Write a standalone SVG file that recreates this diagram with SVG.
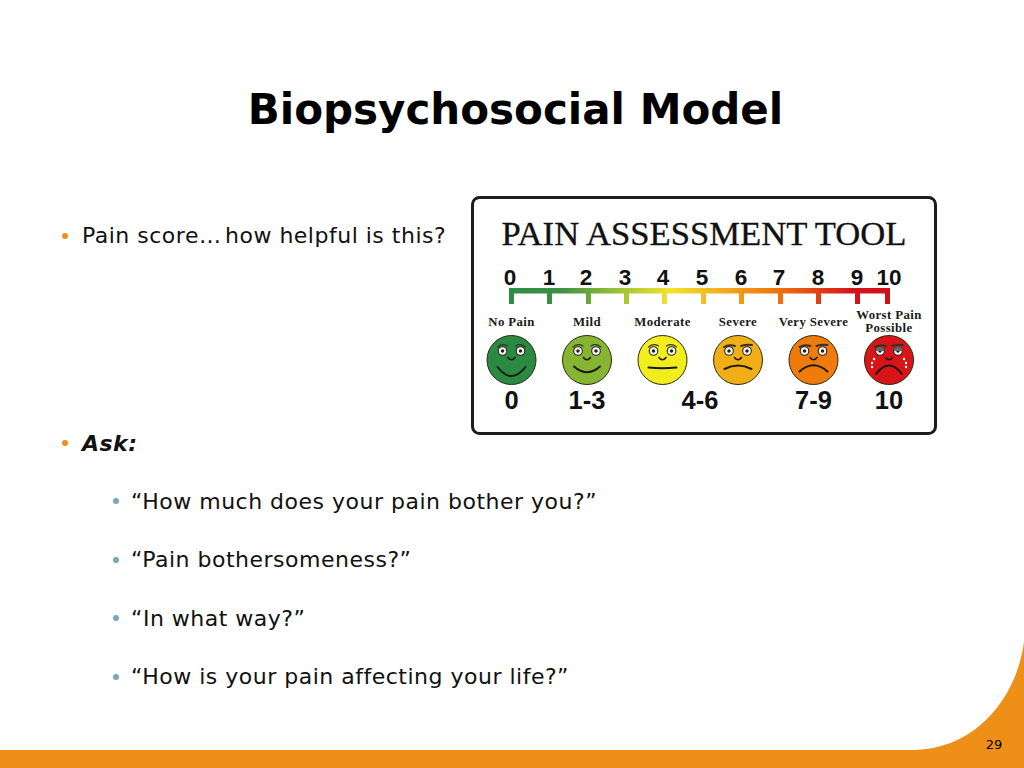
<svg xmlns="http://www.w3.org/2000/svg" xmlns:xlink="http://www.w3.org/1999/xlink" width="1024" height="768" viewBox="0 0 1024 768">
<style>
.t{font-family:"DejaVu Sans",Verdana,sans-serif;fill:#000}
.b{font-size:22px;letter-spacing:.5px;fill:#111}
.d1{fill:#ee8f18}.d2{fill:#7ba5b8}
.h{font-family:"Liberation Serif",serif;font-weight:bold;font-size:12.800px;letter-spacing:.4px;text-anchor:middle;fill:#1a1a1a}
.n{font-family:"Liberation Sans",Arial,sans-serif;font-weight:bold;font-size:22.500px;text-anchor:middle;fill:#111}
.r{font-family:"Liberation Sans",Arial,sans-serif;font-weight:bold;font-size:25.500px;text-anchor:middle;fill:#111}
.f{stroke:#2b2b10;stroke-width:1}
.l{fill:none;stroke:#1a1a10;stroke-width:1.600;stroke-linecap:round}
.m{fill:none;stroke:#1a1a10;stroke-width:2;stroke-linecap:round}
.br{fill:none;stroke:#33332a;stroke-width:1.200;stroke-linecap:round}
.bs{fill:none;stroke:#33332a;stroke-width:2;stroke-linecap:round}
.ew{fill:#fff;stroke:#222;stroke-width:1.100}
</style>
<defs>
<linearGradient id="g" gradientUnits="userSpaceOnUse" x1="509" y1="0" x2="890" y2="0">
<stop offset="0" stop-color="#2e8b46"/><stop offset=".14" stop-color="#3f9143"/><stop offset=".3" stop-color="#a4c636"/><stop offset=".42" stop-color="#f0e42c"/><stop offset=".55" stop-color="#f3b01e"/><stop offset=".72" stop-color="#ee6c0c"/><stop offset=".9" stop-color="#d5141a"/><stop offset="1" stop-color="#cf1018"/>
</linearGradient>
<g id="eyes">
<circle class="ew" cx="-9" cy="-9" r="4.300"/><circle class="ew" cx="9" cy="-9" r="4.300"/>
<circle cx="-9" cy="-9" r="1.800" fill="#222"/><circle cx="9" cy="-9" r="1.800" fill="#222"/>
<path class="l" d="M-3.500 -2.500Q0 2 3.500 -2.500"/>
</g>
<path id="brow-calm" class="br" d="M-14 -13Q-9 -17 -4 -14M4 -14Q9 -17 14 -13"/>
<path id="brow-sad" class="bs" d="M-14 -13Q-9 -16 -3 -14M3 -14Q9 -16 14 -15"/>
</defs>
<rect width="1024" height="768" fill="#fff"/>
<path id="footer" class="d1" d="M0 750H915C975 748 1016 700 1024 642V768H0Z"/>
<text class="t" x="515.500" y="124" font-size="42" font-weight="bold" text-anchor="middle" fill="#000">Biopsychosocial Model</text>
<g id="bullets">
<circle class="d1" cx="65" cy="236" r="3"/>
<text class="t b" x="82" y="243">Pain score…<tspan x="225">how helpful is this?</tspan></text>
<circle class="d1" cx="65" cy="443" r="3"/>
<text class="t b" x="82" y="451" font-weight="bold" font-style="italic">Ask:</text>
<circle class="d2" cx="116" cy="501" r="3"/>
<text class="t b" x="131" y="509">“How much does your pain bother you?”</text>
<circle class="d2" cx="116" cy="560" r="3"/>
<text class="t b" x="131" y="567">“Pain bothersomeness?”</text>
<circle class="d2" cx="116" cy="618" r="3"/>
<text class="t b" x="131" y="626">“In what way?”</text>
<circle class="d2" cx="116" cy="677" r="3"/>
<text class="t b" x="131" y="684">“How is your pain affecting your life?”</text>
</g>
<text class="t" x="994" y="749" font-size="13" text-anchor="middle" fill="#222">29</text>
<g id="pain-tool">
<rect x="472.500" y="197.500" width="463" height="236" rx="7" fill="#fff" stroke="#1c1c1c" stroke-width="3"/>
<text x="704" y="245" font-family="'Liberation Serif',serif" font-size="33" text-anchor="middle" fill="#111" stroke="#111" stroke-width=".3" textLength="405" lengthAdjust="spacingAndGlyphs">PAIN ASSESSMENT TOOL</text>
<g>
<text class="n" x="510" y="285">0</text><text class="n" x="549" y="285">1</text><text class="n" x="586" y="285">2</text><text class="n" x="625" y="285">3</text><text class="n" x="663" y="285">4</text><text class="n" x="702" y="285">5</text><text class="n" x="741" y="285">6</text><text class="n" x="779" y="285">7</text><text class="n" x="818" y="285">8</text><text class="n" x="857" y="285">9</text><text class="n" x="889" y="285">10</text>
</g>
<path fill="url(#g)" d="M509 288H890V304H885V293.500H860V304H855V293.500H821V304H816V293.500H783V304H778V293.500H744V304H739V293.500H706V304H701V293.500H667V304H662V293.500H629V304H624V293.500H591V304H586V293.500H552V304H547V293.500H514V304H509Z"/>
<text class="h" x="511.500" y="325.500">No Pain</text>
<text class="h" x="587" y="325.500">Mild</text>
<text class="h" x="662.500" y="325.500">Moderate</text>
<text class="h" x="738" y="325.500">Severe</text>
<text class="h" x="813.500" y="325.500">Very Severe</text>
<text class="h" x="889" y="319">Worst Pain</text>
<text class="h" x="889" y="332">Possible</text>
<g id="face0" transform="translate(511.500 360)"><circle class="f" r="24.500" fill="#2b8a42"/><use xlink:href="#eyes" href="#eyes"/><use href="#brow-calm" xlink:href="#brow-calm"/><path class="m" d="M-14 7Q0 25 14 7"/></g>
<g id="face1" transform="translate(587 360)"><circle class="f" r="24.500" fill="#86b533"/><use xlink:href="#eyes" href="#eyes"/><use href="#brow-calm" xlink:href="#brow-calm"/><path class="m" d="M-13 6.500Q0 18 13 6.500"/></g>
<g id="face2" transform="translate(662.500 360)"><circle class="f" r="24.500" fill="#f2ee1e"/><use xlink:href="#eyes" href="#eyes"/><use href="#brow-calm" xlink:href="#brow-calm"/><path class="m" d="M-14 7.500Q0 9 14 7.500"/></g>
<g id="face3" transform="translate(738 360)"><circle class="f" r="24.500" fill="#f1af15"/><use xlink:href="#eyes" href="#eyes"/><use href="#brow-sad" xlink:href="#brow-sad"/><path class="m" d="M-13.500 9Q0 2 13.500 9"/></g>
<g id="face4" transform="translate(813.500 360)"><circle class="f" r="24.500" fill="#ee7b0b"/><use xlink:href="#eyes" href="#eyes"/><use href="#brow-sad" xlink:href="#brow-sad"/><path class="m" d="M-14 11.500Q0 -1 14 11.500"/></g>
<g id="face5" transform="translate(889 360)"><circle class="f" r="24.500" fill="#d81418"/><use xlink:href="#eyes" href="#eyes"/><path d="M-13.500 -9A4.500 4.500 0 0 1 -4.500 -9ZM4.500 -9A4.500 4.500 0 0 1 13.500 -9Z" fill="#666"/><use href="#brow-sad" xlink:href="#brow-sad"/><path class="m" d="M-13 14Q0 -3 13 14"/><g fill="#fff"><circle cx="-15" cy="-1" r="1.200"/><circle cx="-17" cy="3" r="1.200"/><circle cx="-17" cy="7" r="1.200"/><circle cx="15" cy="-1" r="1.200"/><circle cx="17" cy="3" r="1.200"/><circle cx="17" cy="7" r="1.200"/></g></g>
<text class="r" x="511.500" y="409">0</text>
<text class="r" x="587" y="409">1-3</text>
<text class="r" x="700" y="409">4-6</text>
<text class="r" x="813.500" y="409">7-9</text>
<text class="r" x="889" y="409">10</text>
</g>
</svg>
